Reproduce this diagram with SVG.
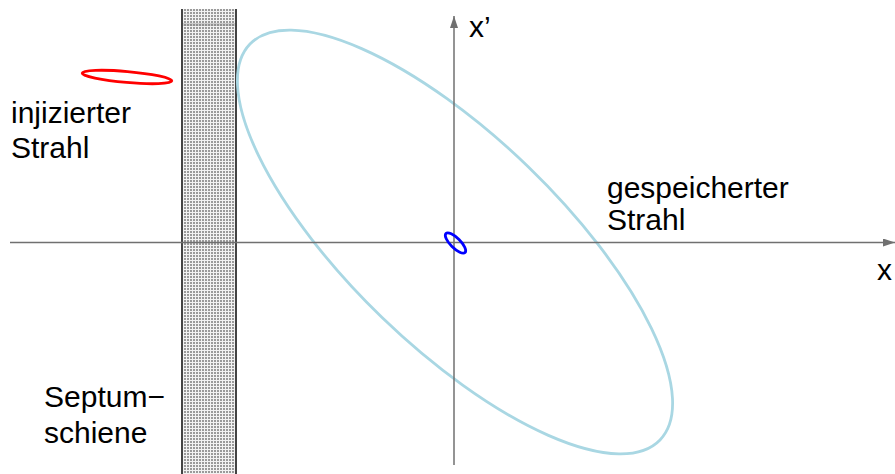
<svg xmlns="http://www.w3.org/2000/svg" width="895" height="474" viewBox="0 0 895 474">
<defs>
<pattern id="dots" x="181" y="0" width="3" height="3" patternUnits="userSpaceOnUse">
<rect width="3" height="3" fill="#f2f2f2"/>
<rect width="2" height="2" fill="#9a9a9a"/>
</pattern>
<marker id="arr" viewBox="0 0 12 8" refX="12" refY="4" markerWidth="12" markerHeight="8" markerUnits="userSpaceOnUse" orient="auto">
<path d="M0,0 L12,4 L0,8 Z" fill="#707070"/>
</marker>
<style>
text{font-family:"Liberation Sans",Arial,sans-serif;font-size:30px;fill:#000}
.axis{stroke:#707070;stroke-width:1.5;fill:none}
.beam{fill:none;stroke-width:2.8}
</style>
</defs>
<rect width="895" height="474" fill="#fff"/>
<g id="septum">
<rect x="181" y="9" width="56" height="465" fill="url(#dots)"/>
<rect x="181" y="23" width="56" height="3" fill="#777" opacity="0.3"/>
<line x1="182" y1="9" x2="182" y2="474" stroke="#444" stroke-width="2"/>
<line x1="236" y1="9" x2="236" y2="474" stroke="#444" stroke-width="2"/>
</g>
<g id="stored-beam">
<ellipse class="beam" cx="455" cy="242" rx="285" ry="105" transform="rotate(44 455 242)" stroke="#a9d7e3"/>
</g>
<g id="connectors">
<line class="axis" x1="10" y1="242.5" x2="895" y2="242.5" marker-end="url(#arr)"/>
<line class="axis" x1="454" y1="465" x2="454" y2="16" marker-end="url(#arr)"/>
</g>
<g id="injected-beam">
<ellipse class="beam" cx="127" cy="77" rx="45" ry="5.5" transform="rotate(5 127 77)" stroke="#ff0000"/>
</g>
<g id="small-beam">
<ellipse class="beam" cx="455.5" cy="243" rx="13.5" ry="5" transform="rotate(45 455.5 243)" stroke="#0000ff" stroke-width="2.5"/>
</g>
<g id="labels">
<text x="469" y="37">x’</text>
<text x="877" y="280">x</text>
<text x="11" y="123">injizierter</text>
<text x="11" y="158">Strahl</text>
<text x="607" y="198">gespeicherter</text>
<text x="607" y="230">Strahl</text>
<text x="44" y="407">Septum−</text>
<text x="44" y="443">schiene</text>
</g>
</svg>
